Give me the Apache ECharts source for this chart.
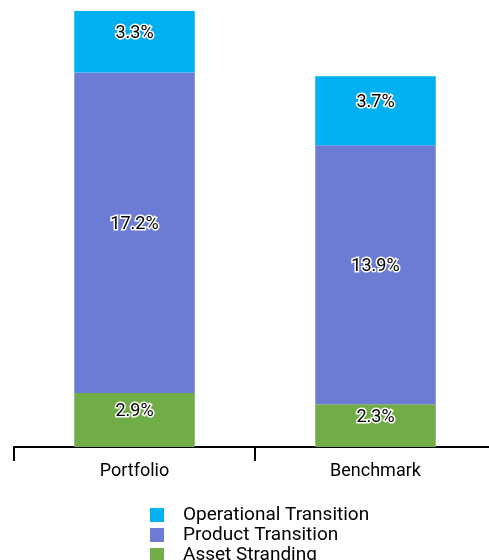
<!DOCTYPE html>
<html>
<head>
<meta charset="utf-8">
<script src="https://cdn.jsdelivr.net/npm/echarts@6/dist/echarts.min.js"></script>
<style>
  html, body { margin: 0; padding: 0; background: #fff; }
  #main { width: 489px; height: 560px; }
</style>
</head>
<body>
<div id="main"></div>
<script>
const categories = ["Portfolio", "Benchmark"];
const assetStranding = [2.9, 2.3];
const productTransition = [17.2, 13.9];
const operationalTransition = [3.3, 3.7];

const chart = echarts.init(document.getElementById("main"));

const label = {
  show: true,
  position: "inside",
  offset: [0, -8],
  formatter: (p) => p.value.toFixed(1) + "%",
  color: "#000",
  fontFamily: "Roboto",
  fontSize: 18,
  textBorderColor: "#fff",
  textBorderWidth: 3,
};

chart.setOption({
  animation: false,
  grid: { left: 14, width: 482, top: 11, bottom: 113, outerBoundsMode: "none", containLabel: false },
  xAxis: {
    type: "category",
    data: categories,
    axisLine: { lineStyle: { color: "#000", width: 2 } },
    axisTick: { show: true, length: 14, lineStyle: { color: "#000", width: 2 } },
    axisLabel: { color: "#000", fontFamily: "Roboto", fontSize: 18, margin: 15 },
  },
  yAxis: {
    type: "value",
    min: 0,
    max: "dataMax",
    show: false,
    splitLine: { show: false },
  },
  legend: {
    orient: "vertical",
    left: 150,
    top: 505,
    height: 120,
    padding: 0,
    itemWidth: 14,
    itemHeight: 14,
    itemGap: 0,
    icon: "rect",
    textStyle: { color: "#000", fontFamily: "Roboto", fontSize: 19, lineHeight: 20, padding: [0, 0, 0, 14] },
    data: ["Operational Transition", "Product Transition", "Asset Stranding"],
  },
  series: [
    {
      name: "Asset Stranding",
      type: "bar",
      stack: "total",
      barWidth: "50%",
      data: assetStranding,
      itemStyle: { color: "#70AD47" },
      label: label,
    },
    {
      name: "Product Transition",
      type: "bar",
      stack: "total",
      data: productTransition,
      itemStyle: { color: "#6C7CD4" },
      label: label,
    },
    {
      name: "Operational Transition",
      type: "bar",
      stack: "total",
      data: operationalTransition,
      itemStyle: { color: "#00B0F0" },
      label: label,
    },
  ],
});
</script>
</body>
</html>
